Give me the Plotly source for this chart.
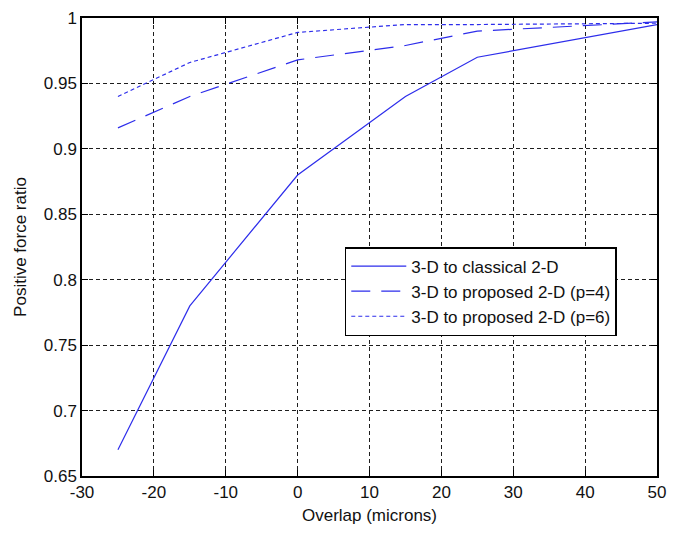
import plotly.graph_objects as go

overlap = [-25, -15, 0, 15, 25, 50]
classical_2d = [0.67, 0.78, 0.88, 0.94, 0.97, 0.995]
proposed_p4 = [0.916, 0.94, 0.968, 0.979, 0.990, 0.997]
proposed_p6 = [0.940, 0.966, 0.989, 0.995, 0.995, 0.996]

names = ["3-D to classical 2-D", "3-D to proposed 2-D (p=4)", "3-D to proposed 2-D (p=6)"]

x_ticks = [-30, -20, -10, 0, 10, 20, 30, 40, 50]
x_ticktext = ["-30", "-20", "-10", "0", "10", "20", "30", "40", "50"]
y_ticks = [0.65, 0.7, 0.75, 0.8, 0.85, 0.9, 0.95, 1.0]
y_ticktext = ["0.65", "0.7", "0.75", "0.8", "0.85", "0.9", "0.95", "1"]

blue = "rgb(45,45,235)"
font = "Liberation Sans, Arial, sans-serif"

fig = go.Figure()
fig.add_trace(go.Scatter(x=overlap, y=classical_2d, mode="lines", name=names[0],
                         line=dict(color=blue, width=1.2)))
fig.add_trace(go.Scatter(x=overlap, y=proposed_p4, mode="lines", name=names[1],
                         line=dict(color=blue, width=1.2, dash="19px,11px")))
fig.add_trace(go.Scatter(x=overlap, y=proposed_p6, mode="lines", name=names[2],
                         line=dict(color=blue, width=1.2, dash="4px,3px")))

axis_common = dict(
    showline=True, linecolor="black", linewidth=1.5, mirror="ticks",
    ticks="inside", ticklen=6, tickcolor="black", tickwidth=1,
    showgrid=True, gridcolor="rgb(30,30,30)", gridwidth=1, griddash="4px,3px",
    zeroline=False, tickfont=dict(family=font, size=17, color="#111"),
    ticklabeloverflow="allow",
)

fig.update_xaxes(range=[-30, 50], tickvals=x_ticks, ticktext=x_ticktext,
                 title=dict(text="Overlap (microns)", font=dict(family=font, size=17, color="#111"), standoff=8),
                 **axis_common)
fig.update_yaxes(range=[0.65, 1.0], tickvals=y_ticks, ticktext=y_ticktext,
                 title=dict(text="Positive force ratio", font=dict(family=font, size=17, color="#111"), standoff=13),
                 **axis_common)

fig.update_layout(
    width=675, height=535,
    margin=dict(l=82, r=9, t=17, b=59),
    plot_bgcolor="white", paper_bgcolor="white",
    showlegend=True,
    legend=dict(x=0.457, y=0.5, xanchor="left", yanchor="top",
                bgcolor="white", bordercolor="black", borderwidth=1.5,
                itemwidth=55,
                font=dict(family=font, size=17, color="#111")),
)

fig.write_html("out.html")
